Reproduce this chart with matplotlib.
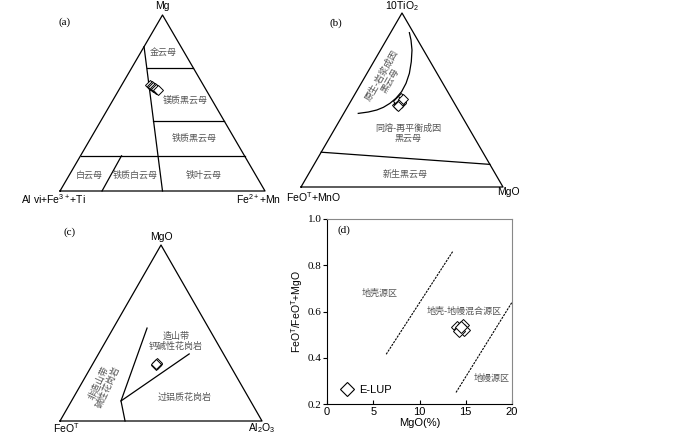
import numpy as np
import matplotlib
matplotlib.use('Agg')
import matplotlib.pyplot as plt
from matplotlib.lines import Line2D

plt.rcParams['font.family'] = ['Liberation Sans', 'Noto Sans CJK SC', 'DejaVu Sans']
plt.rcParams['mathtext.fontset'] = 'custom'
plt.rcParams['mathtext.rm'] = 'Liberation Sans'
plt.rcParams['mathtext.it'] = 'Liberation Sans:italic'

H = np.sqrt(3) / 2
CJK = ['Noto Sans CJK SC', 'DejaVu Sans']
SERIF = ['Liberation Serif', 'DejaVu Serif']
GRAY = '#555555'

# --- data: ternary compositions given as (top, right) fractions, left = 1 - top - right ---
# (a) Mg - (Al vi+Fe3+ +Ti) - (Fe2+ +Mn)
a_mg = [0.600, 0.595, 0.590, 0.585, 0.580, 0.575]
a_fe = [0.140, 0.150, 0.160, 0.170, 0.180, 0.190]
# (b) 10TiO2 - (FeOT+MnO) - MgO
b_ti = [0.470, 0.480, 0.490, 0.500, 0.510, 0.485, 0.495, 0.475, 0.505, 0.465]
b_mg = [0.240, 0.245, 0.250, 0.245, 0.240, 0.255, 0.235, 0.250, 0.250, 0.248]
# (c) MgO - FeOT - Al2O3
c_mg = [0.324, 0.328, 0.320, 0.326]
c_al = [0.316, 0.318, 0.314, 0.312]
# (d) MgO vs FeOT/(FeOT+MgO)
d_mgo = [14.05, 14.34, 14.70, 14.77, 14.23, 14.49]
d_ratio = [0.531, 0.525, 0.542, 0.521, 0.516, 0.535]

# boundary lines (top, right)
a_bounds = [
    [(0.82, 0.0), (0.0, 0.5)],
    [(0.70, 0.073), (0.70, 0.30)],
    [(0.40, 0.256), (0.40, 0.60)],
    [(0.20, 0.0), (0.20, 0.80)],
    [(0.20, 0.20), (0.0, 0.205)],
]
b_line = [(0.20, 0.0), (0.13, 0.87)]
b_curve_ti = [0.887, 0.845, 0.787, 0.720, 0.653, 0.596, 0.548, 0.510, 0.481, 0.458, 0.4425, 0.431, 0.423]
b_curve_mg = [0.093, 0.122, 0.156, 0.186, 0.210, 0.222, 0.224, 0.215, 0.200, 0.179, 0.154, 0.118, 0.072]
c_bounds = [
    [(0.528, 0.167), (0.114, 0.245), (0.0, 0.322)],
    [(0.114, 0.245), (0.381, 0.449)],
]
d_line1_x, d_line1_y = [6.4, 13.6], [0.415, 0.86]
d_line2_x, d_line2_y = [13.95, 20.0], [0.25, 0.64]


def tern(top, right):
    top = np.asarray(top, float)
    right = np.asarray(right, float)
    return right + top / 2, top * H


def tri_axes(fig, px_left, px_right, px_base, px_top):
    W, Hf = 700, 434
    ax = fig.add_axes([px_left / W, 1 - px_base / Hf, (px_right - px_left) / W, (px_base - px_top) / Hf])
    ax.set_xlim(0, 1)
    ax.set_ylim(0, H)
    ax.axis('off')
    ax.plot([0, 1, 0.5, 0], [0, 0, H, 0], color='black', lw=0.9, clip_on=False)
    return ax


def seg(ax, pts, **kw):
    t, r = zip(*pts)
    x, y = tern(t, r)
    ax.plot(x, y, color='black', lw=0.9, clip_on=False, **kw)


def label(ax, x, y, s, **kw):
    ax.text(x, y, s, ha='center', va='center', color=GRAY, fontsize=6.5, family=CJK,
            linespacing=1.1, **kw)


def points(ax, top, right, ms=5):
    x, y = tern(top, right)
    ax.plot(x, y, 'D', ms=ms, mfc='white', mec='black', mew=0.7, ls='none')


fig = plt.figure(figsize=(7, 4.34), dpi=100)
VFS = 7.5

# ---- (a) ----
ax = tri_axes(fig, 60, 265, 191, 15)
for b in a_bounds:
    seg(ax, b)
points(ax, a_mg, a_fe)
label(ax, 0.502, 0.684, '金云母')
label(ax, 0.61, 0.443, '镁质黑云母')
label(ax, 0.654, 0.261, '铁质黑云母')
label(ax, 0.141, 0.079, '白云母')
label(ax, 0.366, 0.079, '铁质白云母')
label(ax, 0.702, 0.079, '铁叶云母')
ax.text(0.5, H + 0.02, 'Mg', ha='center', va='bottom', fontsize=VFS)
ax.text(-0.034, -0.04, r'Al vi+Fe$^{3+}$+Ti', ha='center', va='center', fontsize=VFS)
ax.text(0.966, -0.04, r'Fe$^{2+}$+Mn', ha='center', va='center', fontsize=VFS)
fig.text(65 / 700, 1 - 22 / 434, '(a)', ha='center', va='center', family=SERIF, fontsize=8)

# ---- (b) ----
ax = tri_axes(fig, 301, 503, 187, 13)
seg(ax, b_line)
x, y = tern(b_curve_ti, b_curve_mg)
ax.plot(x, y, color='black', lw=0.9)
points(ax, b_ti, b_mg)
label(ax, 0.421, 0.542, '原生-岩浆成因\n黑云母', rotation=60)
label(ax, 0.531, 0.267, '同熔-再平衡成因\n黑云母')
label(ax, 0.515, 0.063, '新生黑云母')
ax.text(0.5, H + 0.033, r'10TiO$_2$', ha='center', va='center', fontsize=VFS)
ax.text(0.064, -0.05, r'FeO$^{\mathrm{T}}$+MnO', ha='center', va='center', fontsize=VFS)
ax.text(1.025, -0.025, 'MgO', ha='center', va='center', fontsize=VFS)
fig.text(336 / 700, 1 - 23 / 434, '(b)', ha='center', va='center', family=SERIF, fontsize=8)

# ---- (c) ----
ax = tri_axes(fig, 60, 262, 421, 245)
for b in c_bounds:
    seg(ax, b)
points(ax, c_mg, c_al, ms=5.5)
label(ax, 0.5726, 0.393, '造山带\n钙碱性花岗岩')
label(ax, 0.2145, 0.177, '非造山带\n碱性花岗岩', rotation=65)
label(ax, 0.619, 0.1165, '过铝质花岗岩')
ax.text(0.5, H + 0.04, 'MgO', ha='center', va='center', fontsize=VFS)
ax.text(0.033, -0.033, r'FeO$^{\mathrm{T}}$', ha='center', va='center', fontsize=VFS)
ax.text(0.998, -0.033, r'Al$_2$O$_3$', ha='center', va='center', fontsize=VFS)
fig.text(70 / 700, 1 - 232 / 434, '(c)', ha='center', va='center', family=SERIF, fontsize=8)

# ---- (d) ----
ax = fig.add_axes([327 / 700, 1 - 404 / 434, 185 / 700, 185 / 434])
ax.plot(d_line1_x, d_line1_y, color='black', lw=0.8, ls=(0, (2, 1)))
ax.plot(d_line2_x, d_line2_y, color='black', lw=0.8, ls=(0, (2, 1)))
ax.plot(d_mgo, d_ratio, 'D', ms=6, mfc='white', mec='black', mew=0.7, ls='none')
ax.set_xlim(0, 20)
ax.set_ylim(0.2, 1.0)
ax.set_xticks([0, 5, 10, 15, 20])
ax.set_yticks([0.2, 0.4, 0.6, 0.8, 1.0])
ax.set_yticklabels(['0.2', '0.4', '0.6', '0.8', '1.0'], family=SERIF)
ax.tick_params(axis='x', direction='in', length=3, labelsize=8, pad=2)
ax.tick_params(axis='y', direction='out', length=3, labelsize=8, pad=1)
for s in ('top', 'right'):
    ax.spines[s].set_color('#888888')
ax.set_xlabel('MgO(%)', fontsize=8, labelpad=1)
ax.set_ylabel(r'FeO$^{\mathrm{T}}$/FeO$^{\mathrm{T}}$+MgO', fontsize=7.5, labelpad=2)
ax.text(5.7, 0.68, '地壳源区', ha='center', va='center', color=GRAY, fontsize=6.5, family=CJK)
ax.text(14.8, 0.60, '地壳-地幔混合源区', ha='center', va='center', color=GRAY, fontsize=6.5, family=CJK)
ax.text(17.8, 0.31, '地幔源区', ha='center', va='center', color=GRAY, fontsize=6.5, family=CJK)
ax.text(1.8, 0.95, '(d)', ha='center', va='center', family=SERIF, fontsize=8)
h = Line2D([], [], marker='D', ms=7, mfc='white', mec='black', mew=0.8, ls='none')
ax.legend([h], ['E-LUP'], loc='lower left', bbox_to_anchor=(0.0, 0.0), frameon=False,
          fontsize=8, handletextpad=0.1, borderaxespad=0.4)

fig.savefig('out.png', dpi=100)
